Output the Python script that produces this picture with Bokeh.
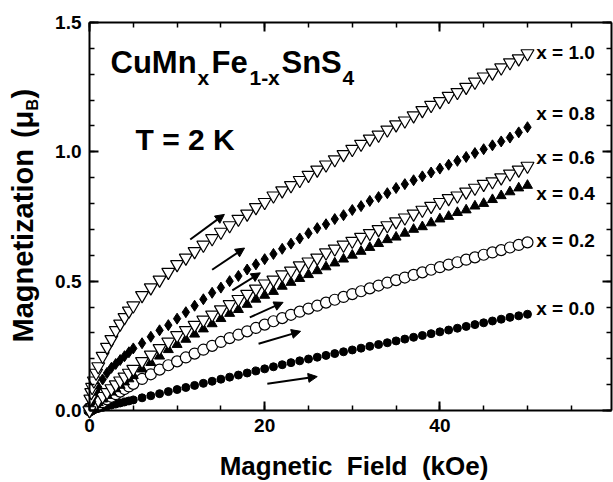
from math import pi
from bokeh.plotting import figure
from bokeh.models import Label, Arrow, NormalHead, LinearAxis, Range1d, FixedTicker, NumeralTickFormatter
from bokeh.embed import file_html
from bokeh.resources import INLINE

FONT = "Liberation Sans"

field = [0, 0.1, 0.2, 0.3, 0.5, 0.75, 1, 1.5, 2, 2.5, 3, 3.5, 4, 4.5, 5,
         6, 7, 8, 9, 10, 11, 12, 13, 14, 15, 16, 17, 18, 19, 20,
         21, 22, 23, 24, 25, 26, 27, 28, 29, 30, 31, 32, 33, 34, 35,
         36, 37, 38, 39, 40, 41, 42, 43, 44, 45, 46, 47, 48, 49, 50]

m_x10 = [0, 0.045, 0.07, 0.09, 0.115, 0.145, 0.17, 0.21, 0.245, 0.275, 0.31, 0.335, 0.36, 0.385, 0.405,
         0.445, 0.475, 0.505, 0.535, 0.565, 0.59, 0.615, 0.64, 0.665, 0.69, 0.715, 0.74, 0.76, 0.785, 0.805,
         0.83, 0.85, 0.87, 0.89, 0.91, 0.93, 0.95, 0.97, 0.99, 1.01, 1.03, 1.05, 1.065, 1.085, 1.105,
         1.12, 1.14, 1.16, 1.18, 1.195, 1.215, 1.23, 1.25, 1.27, 1.29, 1.305, 1.325, 1.345, 1.36, 1.38]

m_x08 = [0, 0.012, 0.025, 0.035, 0.055, 0.075, 0.09, 0.12, 0.145, 0.165, 0.18, 0.195, 0.21, 0.225, 0.24,
         0.26, 0.285, 0.31, 0.33, 0.355, 0.38, 0.405, 0.43, 0.455, 0.475, 0.5, 0.52, 0.545, 0.565, 0.585,
         0.605, 0.625, 0.645, 0.665, 0.685, 0.705, 0.72, 0.74, 0.755, 0.775, 0.79, 0.81, 0.825, 0.84, 0.86,
         0.875, 0.89, 0.905, 0.92, 0.935, 0.95, 0.965, 0.98, 0.995, 1.01, 1.025, 1.04, 1.055, 1.075, 1.095]

m_x06 = [0, 0.004, 0.008, 0.012, 0.02, 0.03, 0.04, 0.055, 0.07, 0.085, 0.1, 0.115, 0.13, 0.145, 0.16,
         0.19, 0.215, 0.24, 0.265, 0.29, 0.31, 0.33, 0.35, 0.37, 0.39, 0.41, 0.43, 0.45, 0.47, 0.49,
         0.505, 0.525, 0.54, 0.56, 0.575, 0.59, 0.61, 0.625, 0.64, 0.655, 0.67, 0.685, 0.7, 0.715, 0.73,
         0.745, 0.76, 0.775, 0.79, 0.805, 0.82, 0.83, 0.845, 0.86, 0.875, 0.885, 0.9, 0.915, 0.93, 0.945]

m_x04 = [0, 0.003, 0.006, 0.009, 0.015, 0.022, 0.03, 0.044, 0.058, 0.071, 0.084, 0.097, 0.11, 0.122, 0.135,
         0.16, 0.185, 0.21, 0.235, 0.255, 0.275, 0.295, 0.315, 0.335, 0.355, 0.375, 0.39, 0.41, 0.43, 0.445,
         0.46, 0.48, 0.495, 0.51, 0.525, 0.54, 0.555, 0.57, 0.585, 0.6, 0.615, 0.63, 0.645, 0.66, 0.67,
         0.685, 0.7, 0.71, 0.725, 0.74, 0.75, 0.765, 0.775, 0.79, 0.8, 0.815, 0.83, 0.845, 0.86, 0.87]

m_x02 = [0, 0.002, 0.004, 0.006, 0.011, 0.016, 0.021, 0.032, 0.043, 0.053, 0.063, 0.073, 0.083, 0.093, 0.103,
         0.122, 0.14, 0.158, 0.175, 0.19, 0.205, 0.22, 0.235, 0.25, 0.265, 0.28, 0.293, 0.306, 0.319, 0.332,
         0.345, 0.357, 0.37, 0.382, 0.394, 0.405, 0.417, 0.428, 0.439, 0.45, 0.461, 0.472, 0.483, 0.494, 0.504,
         0.514, 0.524, 0.534, 0.544, 0.554, 0.564, 0.573, 0.583, 0.592, 0.602, 0.611, 0.62, 0.63, 0.64, 0.65]

m_x00 = [0, 0.001, 0.002, 0.003, 0.004, 0.006, 0.008, 0.012, 0.017, 0.021, 0.025, 0.029, 0.033, 0.037, 0.041,
         0.049, 0.057, 0.065, 0.073, 0.081, 0.089, 0.097, 0.105, 0.113, 0.121, 0.129, 0.137, 0.145, 0.153, 0.161,
         0.169, 0.177, 0.185, 0.192, 0.199, 0.206, 0.213, 0.22, 0.227, 0.234, 0.241, 0.248, 0.255, 0.262, 0.269,
         0.276, 0.283, 0.29, 0.297, 0.304, 0.311, 0.318, 0.325, 0.332, 0.339, 0.346, 0.353, 0.36, 0.366, 0.372]

series_labels = ["x = 0.0", "x = 0.2", "x = 0.4", "x = 0.6", "x = 0.8", "x = 1.0"]
label_y = [0.394, 0.657, 0.839, 0.978, 1.148, 1.384]

# arrows (field-increasing direction) x0, y0, x1, y1
arrows = [(11.5, 0.661, 15.4, 0.758), (14.0, 0.544, 17.7, 0.628), (16.3, 0.464, 19.5, 0.532),
          (18.3, 0.360, 22.1, 0.418), (19.3, 0.258, 24.1, 0.306), (20.3, 0.103, 26.0, 0.131)]

x_ticks = [0, 20, 40]
y_ticks = [0.0, 0.5, 1.0, 1.5]
X_MIN, X_MAX = 0, 59.6
Y_MIN, Y_MAX = 0, 1.5

# The frame fills the whole canvas; axes are pinned at the data box edges so that
# the axis titles (as labels) can sit inside the drawable region.
p = figure(width=613, height=482, output_backend="svg", toolbar_location=None,
           x_range=Range1d(-10.16, 59.82), y_range=Range1d(-0.2783, 1.5848),
           x_axis_type=None, y_axis_type=None,
           min_border_left=0, min_border_right=0, min_border_top=0, min_border_bottom=0,
           background_fill_color="white", border_fill_color="white")
p.grid.visible = False
p.outline_line_color = None

def style_axis(ax, show_labels):
    ax.axis_line_width = 2
    ax.axis_line_color = "black"
    ax.major_tick_in = 9
    ax.major_tick_out = 0
    ax.minor_tick_in = 5
    ax.minor_tick_out = 0
    ax.major_tick_line_width = 2
    ax.minor_tick_line_width = 1.5
    ax.major_tick_line_color = "black"
    ax.minor_tick_line_color = "black"
    if show_labels:
        ax.major_label_text_font = FONT
        ax.major_label_text_font_style = "bold"
        ax.major_label_text_font_size = "19px"
        ax.major_label_text_color = "black"
        ax.major_label_standoff = 8
    else:
        ax.major_label_text_font_size = "1px"
        ax.major_label_text_color = None
        ax.major_label_standoff = 0

xt = FixedTicker(ticks=x_ticks, minor_ticks=[v * 5 for v in range(0, 13)])
yt = FixedTicker(ticks=y_ticks, minor_ticks=[v / 10 for v in range(0, 16)])

bottom = LinearAxis(ticker=xt, fixed_location=Y_MIN, bounds=(X_MIN, X_MAX))
style_axis(bottom, True)
p.add_layout(bottom, "below")

left = LinearAxis(ticker=yt, fixed_location=X_MIN, bounds=(Y_MIN, Y_MAX),
                  formatter=NumeralTickFormatter(format="0.0"))
style_axis(left, True)
p.add_layout(left, "left")

top = LinearAxis(ticker=xt, fixed_location=Y_MAX, bounds=(X_MIN, X_MAX))
style_axis(top, False)
p.add_layout(top, "above")

right = LinearAxis(ticker=yt, fixed_location=X_MAX, bounds=(Y_MIN, Y_MAX))
style_axis(right, False)
p.add_layout(right, "right")

# data series (plotted in order 0.0 -> 1.0)
p.scatter(field, m_x00, marker="circle", size=8, fill_color="black", line_color="black")
p.scatter(field, m_x02, marker="circle", size=11, fill_color="white", line_color="black", line_width=1.2)
p.scatter(field, m_x04, marker="triangle", size=10, fill_color="black", line_color="black")
p.scatter(field, m_x06, marker="inverted_triangle", size=13, fill_color="white", line_color="black", line_width=1.2)
p.scatter(field, m_x08, marker="diamond", size=11, fill_color="black", line_color="black")
p.scatter(field, m_x10, marker="inverted_triangle", size=13, fill_color="white", line_color="black", line_width=1.2)

for txt, yv in zip(series_labels, label_y):
    p.add_layout(Label(x=51.0, y=yv, text=txt, text_font=FONT, text_font_style="bold",
                       text_font_size="19px", text_baseline="middle", text_align="left",
                       text_color="black"))

for (x0, y0, x1, y1) in arrows:
    p.add_layout(Arrow(x_start=x0, y_start=y0, x_end=x1, y_end=y1, line_width=2, line_color="black",
                       end=NormalHead(size=9, fill_color="black", line_color="black")))

def lab(x, y, text, size, angle=0.0, align="left"):
    p.add_layout(Label(x=x, y=y, text=text, text_font=FONT, text_font_style="bold",
                       text_font_size=size, text_align=align, text_baseline="middle",
                       angle=angle, text_color="black"))

# compound formula
lab(2.40, 1.345, "CuMn", "31px")
lab(12.33, 1.286, "x", "21px")
lab(13.93, 1.345, "Fe", "31px")
lab(18.26, 1.286, "1-x", "21px")
lab(21.92, 1.345, "SnS", "31px")
lab(28.88, 1.286, "4", "21px")
lab(5.25, 1.0475, "T = 2 K", "30px")

# y-axis title (rotated, with subscript B)
lab(-7.63, 0.263, "Magnetization", "29px", pi / 2)
lab(-7.63, 1.053, "(\u03bc", "29px", pi / 2)
lab(-6.51, 1.160, "B", "16px", pi / 2)
lab(-7.63, 1.206, ")", "29px", pi / 2)

# x-axis title
lab(30.2, -0.216, "Magnetic\u00a0 Field\u00a0 (kOe)", "26px", align="center")

open("out.html", "w").write(file_html(p, INLINE))
